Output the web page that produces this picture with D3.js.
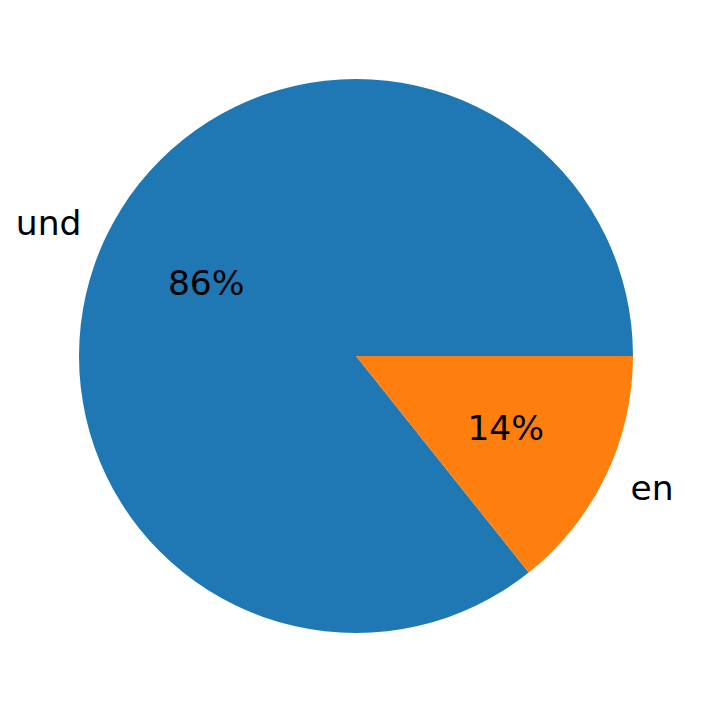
<!DOCTYPE html>
<html>
<head>
<meta charset="utf-8">
<script src="https://cdn.jsdelivr.net/npm/d3@7"></script>
<style>
  body { margin: 0; background: #fff; }
  text { font-family: "DejaVu Sans", sans-serif; }
</style>
</head>
<body>
<div id="chart"></div>
<script>
// language shares
const labels = ["und", "en"];
const values = [6, 1];
const colors = ["#1f77b4", "#ff7f0e"];

const width = 712, height = 713;
const cx = 356, cy = 356, radius = 277;
const fontSize = 34.5;

const svg = d3.select("#chart")
    .append("svg")
    .attr("width", width)
    .attr("height", height);

const total = d3.sum(values);

// matplotlib-style: start at 3 o'clock, go counterclockwise
// d3 angles run clockwise from 12 o'clock, so map accordingly
const pie = d3.pie()
    .sort(null)
    .startAngle(Math.PI / 2)
    .endAngle(Math.PI / 2 - 2 * Math.PI);

const arcs = pie(values);

const arc = d3.arc()
    .innerRadius(0)
    .outerRadius(radius);

const g = svg.append("g")
    .attr("transform", `translate(${cx},${cy})`);

g.selectAll("path")
    .data(arcs)
    .join("path")
    .attr("d", arc)
    .attr("fill", (d, i) => colors[i]);

// position at fraction of radius along the mid angle (d3 angle convention)
function pos(d, r) {
    const a = (d.startAngle + d.endAngle) / 2;
    return [Math.sin(a) * r, -Math.cos(a) * r];
}

const baselineShift = 11.5;

g.selectAll("text.label")
    .data(arcs)
    .join("text")
    .attr("class", "label")
    .attr("x", d => pos(d, radius * 1.1)[0])
    .attr("y", d => pos(d, radius * 1.1)[1] + baselineShift)
    .attr("text-anchor", d => pos(d, 1)[0] < 0 ? "end" : "start")
    .attr("font-size", fontSize)
    .attr("fill", "#000")
    .text((d, i) => labels[i]);

g.selectAll("text.pct")
    .data(arcs)
    .join("text")
    .attr("class", "pct")
    .attr("x", d => pos(d, radius * 0.6)[0])
    .attr("y", d => pos(d, radius * 0.6)[1] + baselineShift)
    .attr("text-anchor", "middle")
    .attr("font-size", fontSize)
    .attr("fill", "#000")
    .text(d => Math.round(d.value / total * 100) + "%");
</script>
</body>
</html>
